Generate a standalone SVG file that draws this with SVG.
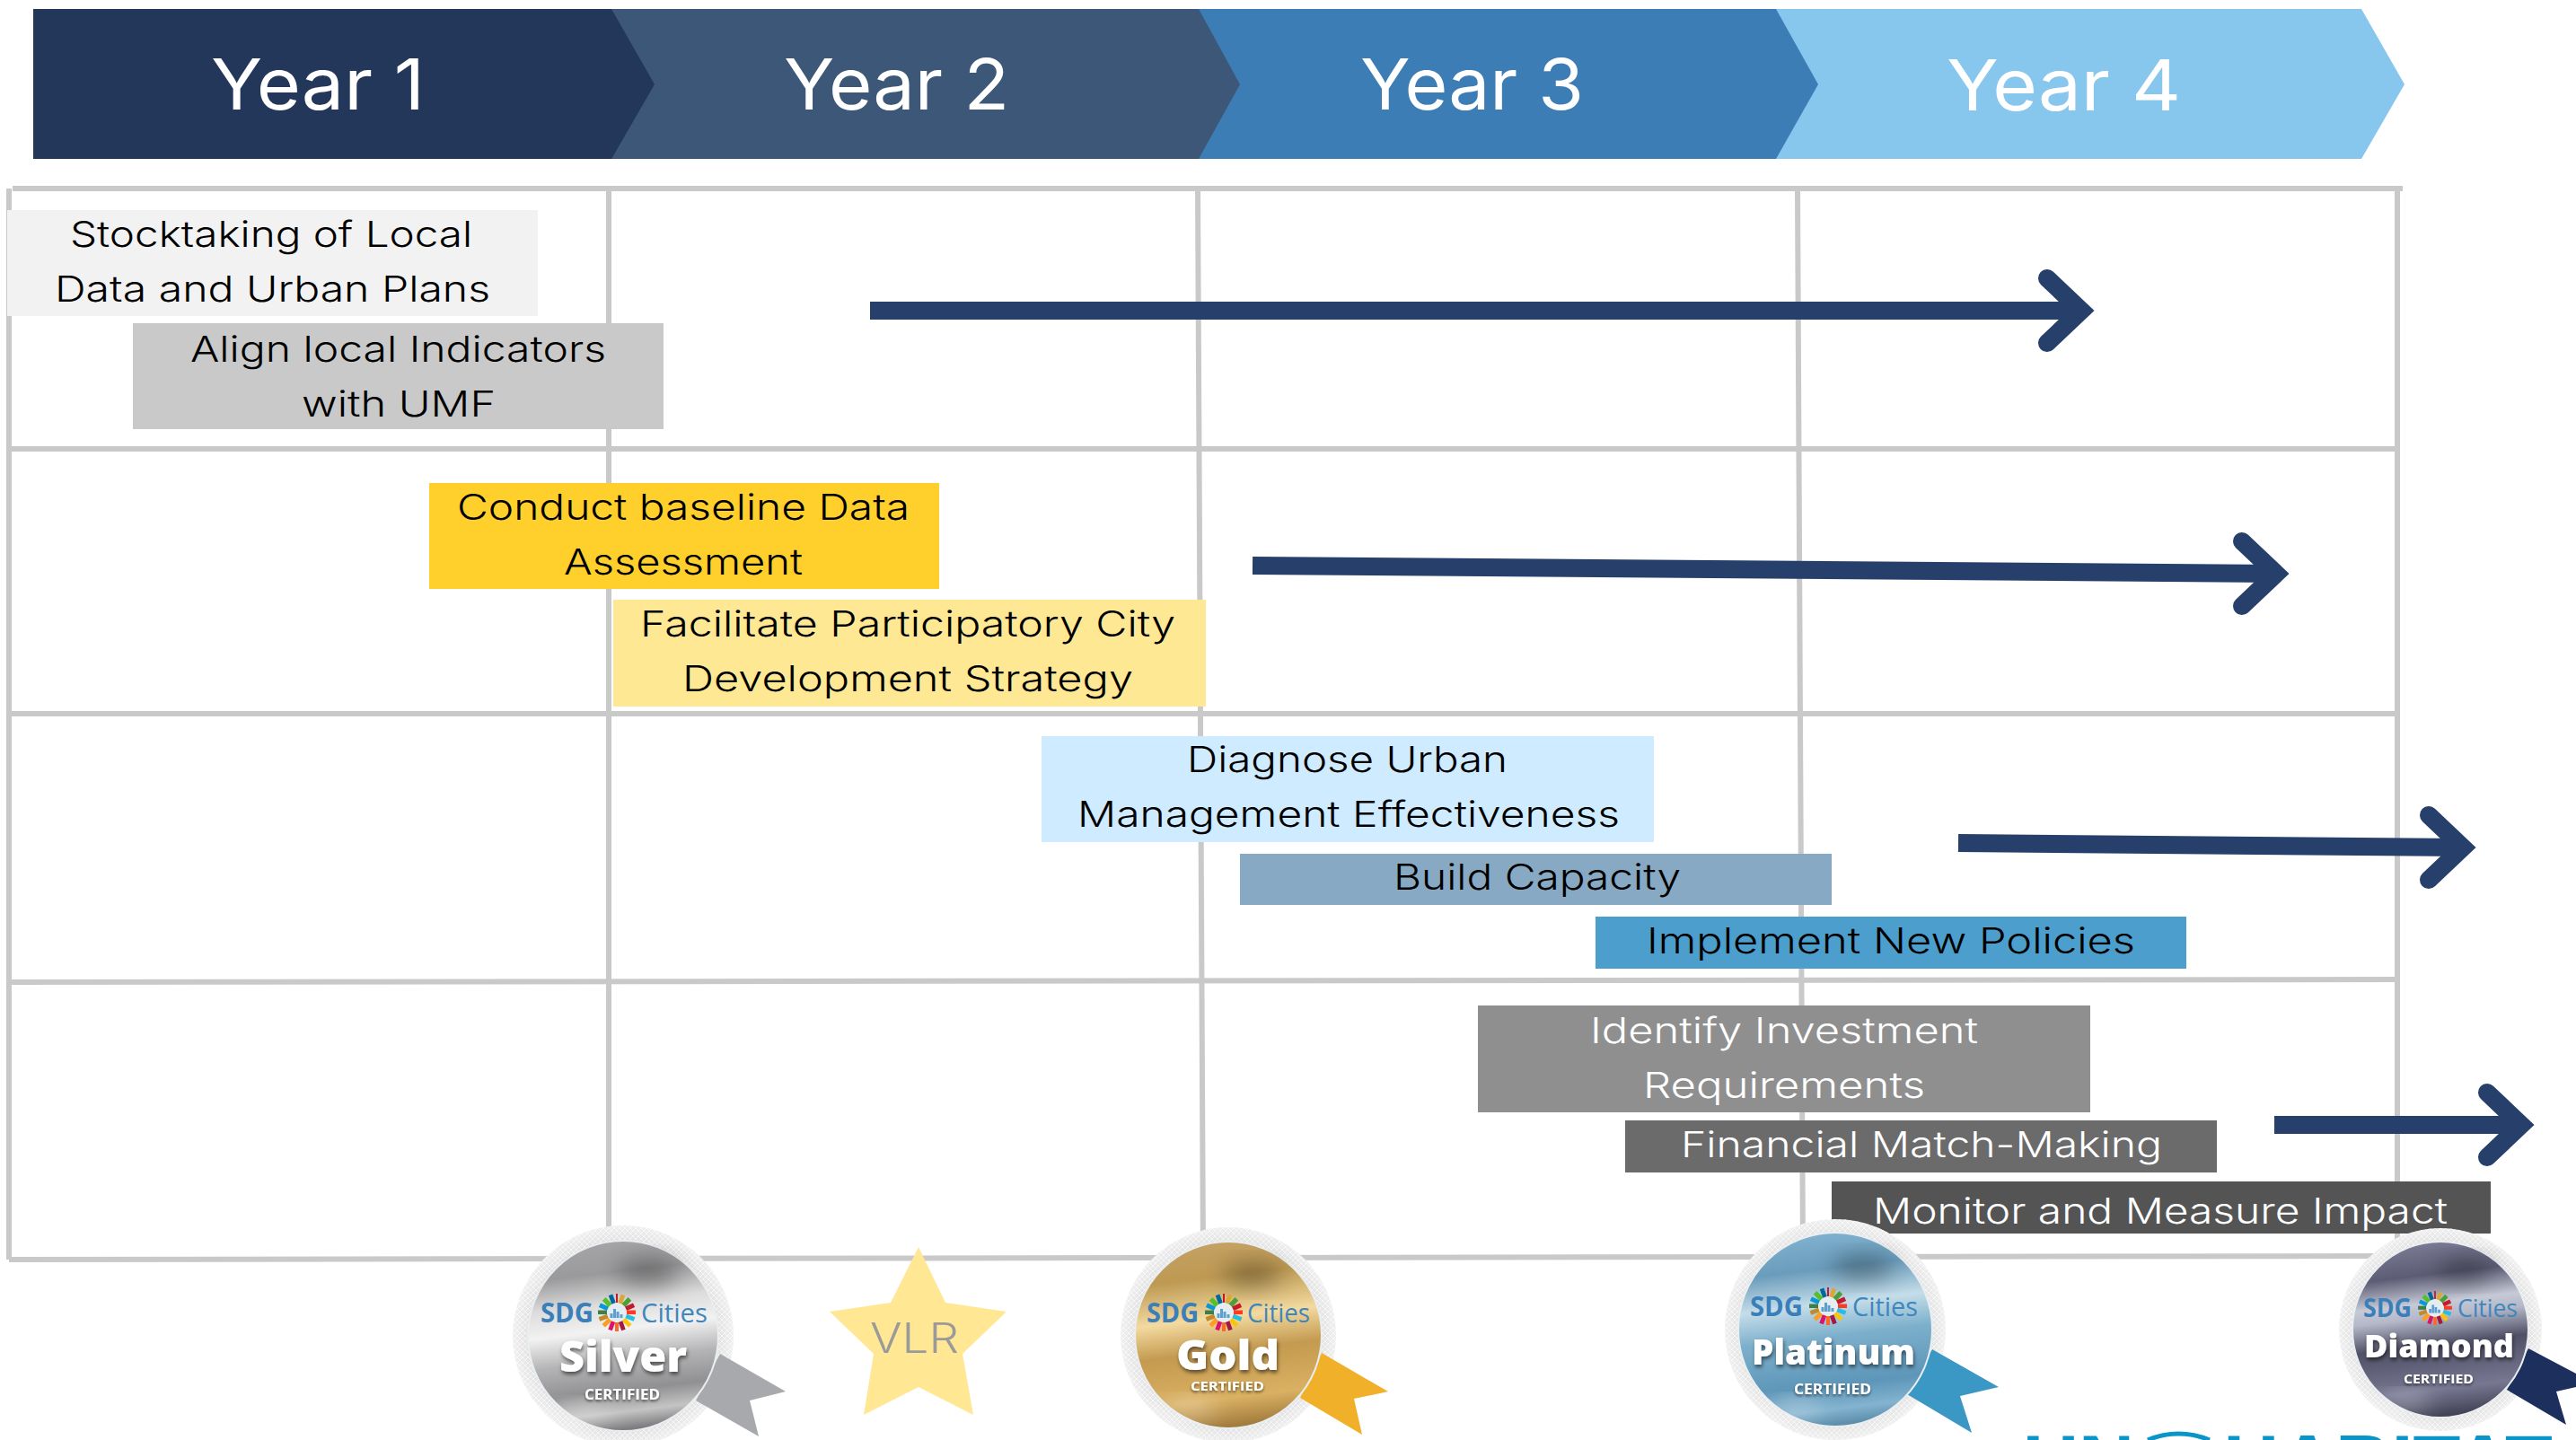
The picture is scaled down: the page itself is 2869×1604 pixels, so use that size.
<svg xmlns="http://www.w3.org/2000/svg" width="2869" height="1604" viewBox="0 0 2869 1604">
<style>
.t{font-family:"Inter","Open Sans","Liberation Sans",sans-serif;font-weight:300;font-size:40px;fill:#000}
.w{fill:#fff}
.y{font-family:"Inter","Open Sans","Liberation Sans",sans-serif;font-weight:400;font-size:79px;fill:#fff}
.g{stroke:#c9c9c9;stroke-width:6;fill:none}
.a{stroke:#273f6b;stroke-width:20;fill:none;stroke-linejoin:miter;stroke-miterlimit:4;stroke-linecap:butt}
.h{stroke:#273f6b;stroke-width:20;fill:none;stroke-linejoin:miter;stroke-miterlimit:4;stroke-linecap:round}
.ring{fill:url(#ringG)}
.mesh{fill:url(#meshP)}
.disc{stroke:#e9eef1;stroke-width:2}
.dk{fill:#000;opacity:.3;filter:url(#bl)}
.lt{fill:#fff;opacity:.4;filter:url(#bl)}
.sdg{font-family:"Open Sans","Liberation Sans",sans-serif;font-weight:700;fill:#3a7fb9}
.cit{font-family:"Open Sans","Liberation Sans",sans-serif;font-weight:400;fill:#3f86bd}
.nm{font-family:"Open Sans","Liberation Sans",sans-serif;font-weight:800;fill:#fff;filter:url(#sh)}
.ce{font-family:"Open Sans","Liberation Sans",sans-serif;font-weight:700;fill:#fff;filter:url(#sh2)}
.un{font-family:"Liberation Sans",sans-serif;font-weight:700;font-size:84px;fill:#0a94c7}
</style>
<defs>
<radialGradient id="ringG"><stop offset=".8" stop-color="#bdbdbd"/><stop offset=".88" stop-color="#e4e4e4"/><stop offset="1" stop-color="#efefef"/></radialGradient>
<pattern id="meshP" width="6" height="6" patternUnits="userSpaceOnUse"><path d="M0 0L6 6M6 0L0 6" stroke="#fff" stroke-width="1" opacity=".6"/></pattern>
<linearGradient id="sil" x1="0.3" y1="0" x2="0.42" y2="1"><stop offset="0" stop-color="#a6a6a8"/><stop offset=".18" stop-color="#9a9a9c"/><stop offset=".34" stop-color="#dcdcdc"/><stop offset=".48" stop-color="#f2f2f2"/><stop offset=".64" stop-color="#b4b4b6"/><stop offset=".8" stop-color="#909092"/><stop offset=".91" stop-color="#c4c4c4"/><stop offset="1" stop-color="#7d7d80"/></linearGradient>
<linearGradient id="gol" x1="0.3" y1="0" x2="0.42" y2="1"><stop offset="0" stop-color="#c6a266"/><stop offset=".2" stop-color="#bd9952"/><stop offset=".42" stop-color="#f3daa0"/><stop offset=".6" stop-color="#c49a50"/><stop offset=".85" stop-color="#dab062"/><stop offset="1" stop-color="#a27c3e"/></linearGradient>
<linearGradient id="pla" x1="0.3" y1="0" x2="0.42" y2="1"><stop offset="0" stop-color="#82b3d1"/><stop offset=".2" stop-color="#6a9cbb"/><stop offset=".38" stop-color="#c5dde9"/><stop offset=".55" stop-color="#7cafcb"/><stop offset=".8" stop-color="#5d96b9"/><stop offset=".92" stop-color="#83b3cf"/><stop offset="1" stop-color="#5d8eab"/></linearGradient>
<linearGradient id="dia" x1="0.3" y1="0" x2="0.42" y2="1"><stop offset="0" stop-color="#7d7d97"/><stop offset=".2" stop-color="#5c5c74"/><stop offset=".36" stop-color="#c6cad6"/><stop offset=".44" stop-color="#b4b8c8"/><stop offset=".6" stop-color="#505066"/><stop offset=".85" stop-color="#777792"/><stop offset="1" stop-color="#434356"/></linearGradient>
<filter id="bl" x="-50%" y="-50%" width="200%" height="200%"><feGaussianBlur stdDeviation="12"/></filter>
<filter id="sh" x="-10%" y="-20%" width="120%" height="150%"><feDropShadow dx="1" dy="3" stdDeviation="2" flood-color="#000" flood-opacity=".55"/></filter>
<filter id="sh2" x="-10%" y="-30%" width="120%" height="170%"><feDropShadow dx="0" dy="2" stdDeviation="1.5" flood-color="#000" flood-opacity=".55"/></filter>
<g id="wheel" stroke-width="10" fill="none">
<circle r="12" fill="#e4edf2" stroke="none"/>
<path stroke="#c5192d" d="M-1 -16H1" /><path d="M3 -15.7L7.5 -14" stroke="#dda63a"/><path d="M9 -13.3L12.8 -9.6" stroke="#4c9f38"/><path d="M13.5 -8.5L15.6 -4" stroke="#c5192d"/><path d="M16 -2.5V2" stroke="#ff3a21"/><path d="M15.7 3.5L14 8" stroke="#26bde2"/><path d="M13 9.5L9.5 13" stroke="#fcc30b"/><path d="M8 14L3.5 15.6" stroke="#a21942"/><path d="M2 16H-2" stroke="#fd6925"/><path d="M-3.5 15.6L-8 14" stroke="#dd1367"/><path d="M-9.5 13L-13 9.5" stroke="#fd9d24"/><path d="M-14 8L-15.7 3.5" stroke="#bf8b2e"/><path d="M-16 2V-2.5" stroke="#3f7e44"/><path d="M-15.6 -4L-13.5 -8.5" stroke="#0a97d9"/><path d="M-12.8 -9.6L-9 -13.3" stroke="#56c02b"/><path d="M-7.5 -14L-3 -15.7" stroke="#00689d"/>
<path stroke="#5f9fce" stroke-width="3" d="M-6 6V1M-2.5 6V-4M1 6V-1M5 6V2"/>
</g>
</defs>
<rect width="2869" height="1604" fill="#fff"/>
<g id="year-4"><polygon points="1977,10 2630,10 2678,94 2630,177 1977,177" fill="#87c6ed"/><text class="y" x="2168" y="123" textLength="261" lengthAdjust="spacingAndGlyphs">Year 4</text></g>
<g id="year-3"><polygon points="1335,10 1978,10 2025,94 1978,177 1335,177" fill="#3c7db5"/><text class="y" x="1515" y="122" textLength="249" lengthAdjust="spacingAndGlyphs">Year 3</text></g>
<g id="year-2"><polygon points="681,10 1335,10 1381,94 1335,177 681,177" fill="#3d5778"/><text class="y" x="873" y="122" textLength="251" lengthAdjust="spacingAndGlyphs">Year 2</text></g>
<g id="year-1"><polygon points="37,10 681,10 729,94 681,177 37,177" fill="#23375b"/><text class="y" x="235" y="122" textLength="238" lengthAdjust="spacingAndGlyphs">Year 1</text></g>
<g id="grid">
<path class="g" d="M14 210H2676"/>
<path class="g" d="M10 210V1403"/>
<path class="g" d="M2670 210V1399"/>
<path class="g" d="M10 500H2670"/>
<path class="g" d="M10 795H2670"/>
<path class="g" d="M10 1094L2670 1091"/>
<path class="g" d="M10 1403L2670 1399"/>
<path class="g" d="M678 210V1403"/>
<path class="g" d="M1334 210L1340 1402"/>
<path class="g" d="M2002 210L2008 1400"/>
</g>
<g id="connectors">
<path class="a" d="M969 346H2318"/><path class="h" d="M2280 310L2318 346L2280 382"/>
<path class="a" d="M1395 630L2536 639"/><path class="h" d="M2497 603L2535 639L2497 675"/>
<path class="a" d="M2181 939L2744 944"/><path class="h" d="M2705 908L2743 944L2705 980"/>
<path class="a" d="M2533 1253H2808"/><path class="h" d="M2770 1217L2808 1253L2770 1289"/>
</g>
<g id="stocktaking"><rect x="8" y="234" width="591" height="118" fill="#f2f2f2"/><text class="t" x="78" y="275" textLength="448" lengthAdjust="spacingAndGlyphs">Stocktaking of Local</text><text class="t" x="61" y="336" textLength="485" lengthAdjust="spacingAndGlyphs">Data and Urban Plans</text></g>
<g id="align"><rect x="148" y="360" width="591" height="118" fill="#c9c9c9"/><text class="t" x="212" y="403" textLength="463" lengthAdjust="spacingAndGlyphs">Align local Indicators</text><text class="t" x="336" y="464" textLength="216" lengthAdjust="spacingAndGlyphs">with UMF</text></g>
<g id="baseline"><rect x="478" y="538" width="568" height="118" fill="#ffd02b"/><text class="t" x="509" y="579" textLength="504" lengthAdjust="spacingAndGlyphs">Conduct baseline Data</text><text class="t" x="628" y="640" textLength="266" lengthAdjust="spacingAndGlyphs">Assessment</text></g>
<g id="facilitate"><rect x="683" y="668" width="660" height="119" fill="#ffe894"/><text class="t" x="713" y="709" textLength="596" lengthAdjust="spacingAndGlyphs">Facilitate Participatory City</text><text class="t" x="760" y="770" textLength="502" lengthAdjust="spacingAndGlyphs">Development Strategy</text></g>
<g id="diagnose"><rect x="1160" y="820" width="682" height="118" fill="#cfebff"/><text class="t" x="1322" y="860" textLength="357" lengthAdjust="spacingAndGlyphs">Diagnose Urban</text><text class="t" x="1200" y="921" textLength="604" lengthAdjust="spacingAndGlyphs">Management Effectiveness</text></g>
<g id="capacity"><rect x="1381" y="951" width="659" height="57" fill="#87a9c3"/><text class="t" x="1552" y="991" textLength="320" lengthAdjust="spacingAndGlyphs">Build Capacity</text></g>
<g id="policies"><rect x="1777" y="1021" width="658" height="58" fill="#4c9ecd"/><text class="t" x="1834" y="1062" textLength="544" lengthAdjust="spacingAndGlyphs">Implement New Policies</text></g>
<g id="investment"><rect x="1646" y="1120" width="682" height="119" fill="#8f8f8f"/><text class="t w" x="1771" y="1162" textLength="432" lengthAdjust="spacingAndGlyphs">Identify Investment</text><text class="t w" x="1830" y="1223" textLength="314" lengthAdjust="spacingAndGlyphs">Requirements</text></g>
<g id="matchmaking"><rect x="1810" y="1248" width="659" height="58" fill="#6b6b6b"/><text class="t w" x="1872" y="1289" textLength="536" lengthAdjust="spacingAndGlyphs">Financial Match-Making</text></g>
<g id="monitor"><rect x="2040" y="1316" width="734" height="58" fill="#545454"/><text class="t w" x="2086" y="1363" textLength="640" lengthAdjust="spacingAndGlyphs">Monitor and Measure Impact</text></g>
<g id="un-habitat"><text class="un" x="2253" y="1657" textLength="124" lengthAdjust="spacingAndGlyphs">UN</text><path d="M2392 1604Q2426 1590 2461 1604" fill="none" stroke="#0a94c7" stroke-width="5"/><text class="un" x="2476" y="1657" textLength="367" lengthAdjust="spacingAndGlyphs">HABITAT</text></g>
<g id="badge-silver"><circle class="ring" cx="694" cy="1488" r="123"/><circle class="mesh" cx="694" cy="1488" r="123"/><polygon points="802,1508 875,1550 835,1560 845,1600 775,1560" fill="#a8a9ad"/><circle class="disc" cx="694" cy="1488" r="106" fill="url(#sil)"/><ellipse class="dk" cx="722" cy="1418" rx="34" ry="16"/><ellipse class="lt" cx="650" cy="1572" rx="32" ry="9"/><text class="sdg" x="602" y="1473" font-size="30" textLength="59" lengthAdjust="spacingAndGlyphs">SDG</text><use href="#wheel" transform="translate(687,1462)"/><text class="cit" x="714" y="1473" font-size="30" textLength="74" lengthAdjust="spacingAndGlyphs">Cities</text><text class="nm" x="623" y="1528" font-size="48" textLength="142" lengthAdjust="spacingAndGlyphs">Silver</text><text class="ce" x="651" y="1559" font-size="16" textLength="84" lengthAdjust="spacingAndGlyphs">CERTIFIED</text></g>
<g id="vlr"><polygon points="1023,1389 1053,1451 1121,1461 1072,1508 1084,1576 1023,1545 962,1576 973,1508 924,1461 992,1451" fill="#ffe794"/><text x="969" y="1507" font-family="Inter,'Open Sans',sans-serif" font-weight="300" font-size="46" fill="#9a9a9a" textLength="99" lengthAdjust="spacingAndGlyphs">VLR</text></g>
<g id="badge-gold"><circle class="ring" cx="1368" cy="1487" r="120"/><circle class="mesh" cx="1368" cy="1487" r="120"/><polygon points="1472,1507 1546,1550 1508,1558 1517,1598 1448,1557" fill="#f0b02a"/><circle class="disc" cx="1368" cy="1487" r="104" fill="url(#gol)"/><ellipse class="dk" cx="1395" cy="1420" rx="32" ry="14"/><ellipse class="lt" cx="1325" cy="1568" rx="30" ry="9"/><text class="sdg" x="1277" y="1473" font-size="30" textLength="58" lengthAdjust="spacingAndGlyphs">SDG</text><use href="#wheel" transform="translate(1363,1462)"/><text class="cit" x="1389" y="1473" font-size="30" textLength="70" lengthAdjust="spacingAndGlyphs">Cities</text><text class="nm" x="1310" y="1526" font-size="46" textLength="115" lengthAdjust="spacingAndGlyphs">Gold</text><text class="ce" x="1326" y="1549" font-size="15" textLength="82" lengthAdjust="spacingAndGlyphs">CERTIFIED</text></g>
<g id="badge-platinum"><circle class="ring" cx="2044" cy="1481" r="123"/><circle class="mesh" cx="2044" cy="1481" r="123"/><polygon points="2152,1503 2226,1545 2183,1555 2196,1596 2124,1553" fill="#3b97c4"/><circle class="disc" cx="2044" cy="1481" r="108" fill="url(#pla)"/><ellipse class="dk" cx="2075" cy="1412" rx="34" ry="14"/><ellipse class="lt" cx="2000" cy="1568" rx="30" ry="9"/><text class="sdg" x="1949" y="1466" font-size="30" textLength="59" lengthAdjust="spacingAndGlyphs">SDG</text><use href="#wheel" transform="translate(2036,1455)"/><text class="cit" x="2063" y="1466" font-size="30" textLength="73" lengthAdjust="spacingAndGlyphs">Cities</text><text class="nm" x="1951" y="1520" font-size="38" textLength="182" lengthAdjust="spacingAndGlyphs">Platinum</text><text class="ce" x="1998" y="1553" font-size="16" textLength="86" lengthAdjust="spacingAndGlyphs">CERTIFIED</text></g>
<g id="badge-diamond"><circle class="ring" cx="2718" cy="1481" r="113"/><circle class="mesh" cx="2718" cy="1481" r="113"/><polygon points="2816,1502 2869,1530 2869,1545 2847,1550 2858,1587 2792,1548" fill="#1d2f5c"/><circle class="disc" cx="2718" cy="1481" r="98" fill="url(#dia)"/><ellipse class="dk" cx="2745" cy="1415" rx="30" ry="13"/><ellipse class="lt" cx="2680" cy="1560" rx="28" ry="8"/><text class="sdg" x="2632" y="1467" font-size="28" textLength="54" lengthAdjust="spacingAndGlyphs">SDG</text><use href="#wheel" transform="translate(2712,1457) scale(.9)"/><text class="cit" x="2737" y="1467" font-size="28" textLength="67" lengthAdjust="spacingAndGlyphs">Cities</text><text class="nm" x="2633" y="1512" font-size="36" textLength="167" lengthAdjust="spacingAndGlyphs">Diamond</text><text class="ce" x="2677" y="1541" font-size="15" textLength="78" lengthAdjust="spacingAndGlyphs">CERTIFIED</text></g>
</svg>
